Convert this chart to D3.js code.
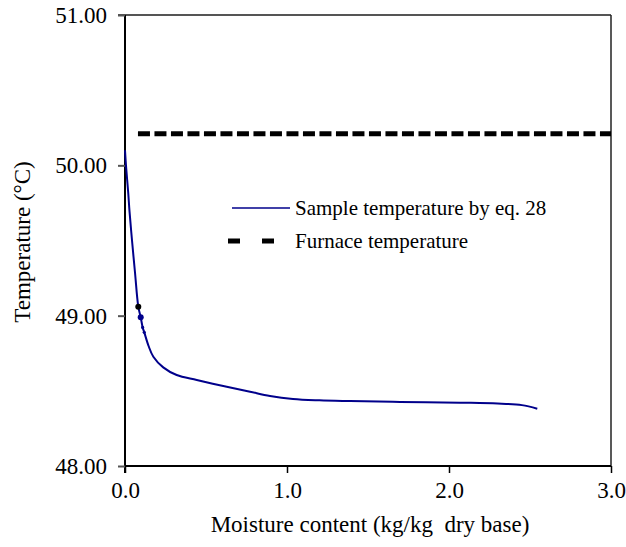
<!DOCTYPE html>
<html><head><meta charset="utf-8">
<script src="https://cdn.jsdelivr.net/npm/d3@7"></script>
</head><body>
<script>
// Data
const moisture = [0, 0.006, 0.02, 0.028, 0.045, 0.062, 0.082, 0.097, 0.109, 0.119, 0.145, 0.175, 0.236, 0.319, 0.443, 0.628, 0.772, 0.895, 1.037, 1.2, 1.389, 1.698, 2.068, 2.3, 2.45, 2.545];
const sampleTemp = [50.10, 50.00, 49.816, 49.692, 49.48, 49.284, 49.06, 48.989, 48.922, 48.889, 48.80, 48.727, 48.656, 48.605, 48.572, 48.527, 48.494, 48.466, 48.446, 48.437, 48.432, 48.426, 48.421, 48.416, 48.405, 48.381];
const furnaceX = [0.08, 3.0];
const furnaceTemp = [50.21, 50.21];
const markX = [0.082, 0.097, 0.109, 0.119];
const markT = [49.06, 48.989, 48.922, 48.889];
const xTicks = [0, 1, 2, 3];
const yTicks = [48, 49, 50, 51];
const seriesNames = ["Sample temperature by eq. 28", "Furnace temperature"];

document.body.style.margin = "0";
const W = 626, H = 547;
const m = {l:125, r:611, t:15, b:466};
const fam = "Liberation Serif";
const svg = d3.select("body").append("svg").attr("width", W).attr("height", H)
  .style("display","block").attr("font-family", fam).style("font-family", `"${fam}"`);
const x = d3.scaleLinear().domain([0,3]).range([m.l, m.r]);
const y = d3.scaleLinear().domain([48,51]).range([m.b, m.t]);

// top border (gray) and right border
svg.append("line").attr("x1", m.l-7).attr("x2", m.r).attr("y1", y(51)).attr("y2", y(51)).attr("stroke","#555").attr("stroke-width",2);
svg.append("line").attr("x1", m.r).attr("x2", m.r).attr("y1", m.t).attr("y2", m.b).attr("stroke","#222").attr("stroke-width",1.5);

// axes
const xAxis = svg.append("g").attr("transform",`translate(0,${m.b})`)
  .call(d3.axisBottom(x).tickValues(xTicks).tickFormat(d3.format(".1f")).tickSize(7).tickPadding(9));
const yAxis = svg.append("g").attr("transform",`translate(${m.l},0)`)
  .call(d3.axisLeft(y).tickValues(yTicks).tickFormat(d3.format(".2f")).tickSize(7).tickPadding(11));
xAxis.attr("font-family", fam).attr("font-size", 23);
yAxis.attr("font-family", fam).attr("font-size", 23);
xAxis.select(".domain").attr("stroke","#000").attr("stroke-width",2).attr("d", `M${m.l},0H${m.r}`);
yAxis.select(".domain").attr("stroke","#000").attr("stroke-width",2).attr("d", `M0,${m.t}V${m.b+7}`);
xAxis.selectAll(".tick line").attr("stroke","#000").attr("stroke-width",1.5);
yAxis.selectAll(".tick line").attr("stroke","#555").attr("stroke-width",2);
svg.selectAll(".tick text").attr("fill","#000");

// furnace line
svg.append("path").datum(furnaceX.map((d,i)=>[d, furnaceTemp[i]]))
  .attr("d", d3.line().x(d=>x(d[0])).y(d=>y(d[1])))
  .attr("fill","none").attr("stroke","#000").attr("stroke-width",5).attr("stroke-dasharray","12,4.5");

// sample curve
svg.append("path").datum(moisture.map((d,i)=>[d, sampleTemp[i]]))
  .attr("d", d3.line().x(d=>x(d[0])).y(d=>y(d[1])).curve(d3.curveCatmullRom.alpha(0.5)))
  .attr("fill","none").attr("stroke","#00008B").attr("stroke-width",2);

// markers
const mk = markX.map((d,i)=>[d, markT[i]]);
svg.selectAll("circle.mk").data(mk).enter().append("circle")
  .attr("cx", d=>x(d[0])).attr("cy", d=>y(d[1]))
  .attr("r", (d,i)=> i<2 ? 3 : 1.6)
  .attr("fill", (d,i)=> i===0 ? "#000" : "#00008B");

// legend
svg.append("line").attr("x1",232).attr("x2",290).attr("y1",208).attr("y2",208).attr("stroke","#00008B").attr("stroke-width",1.5);
svg.append("line").attr("x1",228).attr("x2",274).attr("y1",241).attr("y2",241).attr("stroke","#000").attr("stroke-width",5).attr("stroke-dasharray","12,22");

const labels = [
  {t: seriesNames[0], x: 295, y: 208, s: 21, a: "start", r: 0},
  {t: seriesNames[1], x: 295, y: 241, s: 21, a: "start", r: 0},
  {t: "Moisture content (kg/kg\u00a0 dry base)", x: 370, y: 524, s: 23, a: "middle", r: 0},
  {t: "Temperature (°C)", x: 22, y: 242, s: 23, a: "middle", r: -90}
];
svg.selectAll("text.lbl").data(labels).enter().append("text").attr("class","lbl")
  .attr("transform", d=>`translate(${d.x},${d.y}) rotate(${d.r})`)
  .attr("dy","0.35em").attr("text-anchor", d=>d.a)
  .style("font-family", d=>`"${fam}"`).style("font-size", d=>d.s+"px")
  .text(d=>d.t);
svg.selectAll(".tick text").style("font-family", d=>`"${fam}"`).style("font-size","23px");
</script>
</body></html>
